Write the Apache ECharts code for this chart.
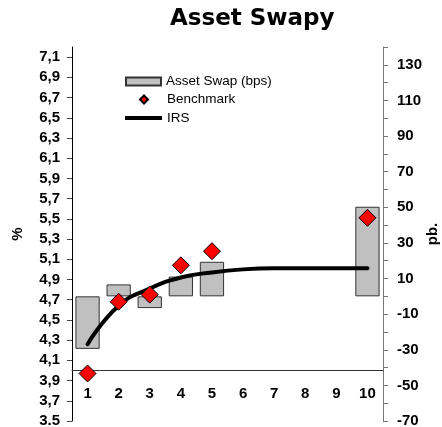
<!DOCTYPE html>
<html>
<head>
<meta charset="utf-8">
<script src="https://cdn.jsdelivr.net/npm/echarts@6/dist/echarts.min.js"></script>
<style>html,body{margin:0;padding:0;background:#fff}#c{width:442px;height:427px}</style>
</head>
<body>
<div id="c"></div>
<script>
var categories = ['1','2','3','4','5','6','7','8','9','10'];
var assetSwapBps = [-29.5, 6.7, -6.6, 11.1, 19.4, null, null, null, null, 50.3];
var benchmark = [3.97, 4.68, 4.75, 5.04, 5.18, null, null, null, null, 5.51];
var irs = [4.26, 4.64, 4.81, 4.92, 4.97, 5.0, 5.01, 5.01, 5.01, 5.01];
var leftTicks = [3.5, 3.7, 3.9, 4.1, 4.3, 4.5, 4.7, 4.9, 5.1, 5.3, 5.5, 5.7, 5.9, 6.1, 6.3, 6.5, 6.7, 6.9, 7.1];
var leftTickLabels = ['3.5','3,7','3,9','4,1','4,3','4,5','4,7','4,9','5,1','5,3','5,5','5,7','5,9','6,1','6,3','6,5','6,7','6,9','7,1'];
var rightTicks = [-70,-60,-50,-40,-30,-20,-10,0,10,20,30,40,50,60,70,80,90,100,110,120,130,140];
var rightLabels = [-70,-50,-30,-10,10,30,50,70,90,110,130];

var chart = echarts.init(document.getElementById('c'), null, {renderer:'canvas'});
var lblFont = {fontFamily:'Liberation Sans', fontWeight:'bold', fontSize:15, color:'#000'};
var legText = {fontFamily:'Liberation Sans', fontSize:13.5, color:'#000'};
chart.setOption({
  animation:false,
  backgroundColor:'#fff',
  title:{text:'Asset Swapy', left:165, top:3,
    textStyle:{fontFamily:'DejaVu Sans', fontWeight:'bold', fontSize:23, color:'#000'}},
  legend:[
    {left:125, top:74.5, padding:0, itemWidth:35, itemHeight:8, textStyle:legText,
     data:[{name:'Asset Swap (bps)', icon:'rect'}]},
    {left:139, top:92.5, padding:0, itemWidth:8, itemHeight:8, textStyle:Object.assign({padding:[0,0,0,14]}, legText),
     data:[{name:'Benchmark', icon:'diamond'}]},
    {left:125, top:111, padding:0, itemWidth:37, itemHeight:4, textStyle:legText,
     data:[{name:'IRS', icon:'path://M0,0L37,0L37,4L0,4Z'}]}
  ],
  grid:[
    {left:72, right:59, top:47, bottom:6, outerBoundsMode:'none', containLabel:false},
    {left:72, right:59, top:47, bottom:56.5, outerBoundsMode:'none', containLabel:false}
  ],
  xAxis:[
    {type:'category', gridIndex:0, data:categories,
     axisLine:{show:false}, axisTick:{show:false}, axisLabel:{show:false}, splitLine:{show:false}},
    {type:'category', gridIndex:1, data:categories, position:'bottom',
     axisLine:{onZero:false, lineStyle:{color:'#333', width:1}},
     axisTick:{inside:true, length:5, lineStyle:{color:'#333'}},
     axisLabel:Object.assign({margin:16}, lblFont),
     splitLine:{show:false}}
  ],
  yAxis:[
    {type:'value', gridIndex:0, position:'left', min:3.5, max:7.2,
     name:'%', nameLocation:'middle', nameGap:47, nameMoveOverlap:false,
     nameTextStyle:{fontFamily:'Liberation Sans', fontWeight:'bold', fontSize:15, color:'#000'},
     axisLine:{show:true, lineStyle:{color:'#000', width:1}},
     axisTick:{show:true, length:5, customValues:leftTicks, lineStyle:{color:'#444'}},
     axisLabel:Object.assign({margin:12, customValues:leftTicks,
       formatter:function(v){var i=leftTicks.findIndex(function(t){return Math.abs(t-v)<1e-6;});return i>=0?leftTickLabels[i]:'';}}, lblFont),
     splitLine:{show:false}},
    {type:'value', gridIndex:0, position:'right', min:-70, max:140, interval:10,
     name:'pb.', nameLocation:'middle', nameGap:42, nameMoveOverlap:false,
     nameTextStyle:{fontFamily:'Liberation Sans', fontWeight:'bold', fontSize:15, color:'#000'},
     axisLine:{show:true, lineStyle:{color:'#777', width:1}},
     axisTick:{show:true, length:5, customValues:rightTicks, lineStyle:{color:'#777'}},
     axisLabel:Object.assign({margin:14, customValues:rightLabels}, lblFont),
     splitLine:{show:false}},
    {type:'value', gridIndex:1, min:0, max:1, show:false, splitLine:{show:false}}
  ],
  series:[
    {name:'Asset Swap (bps)', type:'bar', xAxisIndex:0, yAxisIndex:1, data:assetSwapBps, barCategoryGap:'22%',
     itemStyle:{color:'#c0c0c0', borderColor:'#333', borderWidth:1}, z:2},
    {name:'IRS', type:'line', xAxisIndex:0, yAxisIndex:0, data:irs, smooth:true, symbol:'none', showSymbol:false,
     lineStyle:{color:'#000', width:4, cap:'round'}, itemStyle:{color:'#000'}, z:3},
    {name:'Benchmark', type:'scatter', xAxisIndex:0, yAxisIndex:0, data:benchmark, symbol:'diamond', symbolSize:17,
     itemStyle:{color:'#ff0000', borderColor:'#000', borderWidth:1, opacity:1}, z:4}
  ]
});
</script>
</body>
</html>
